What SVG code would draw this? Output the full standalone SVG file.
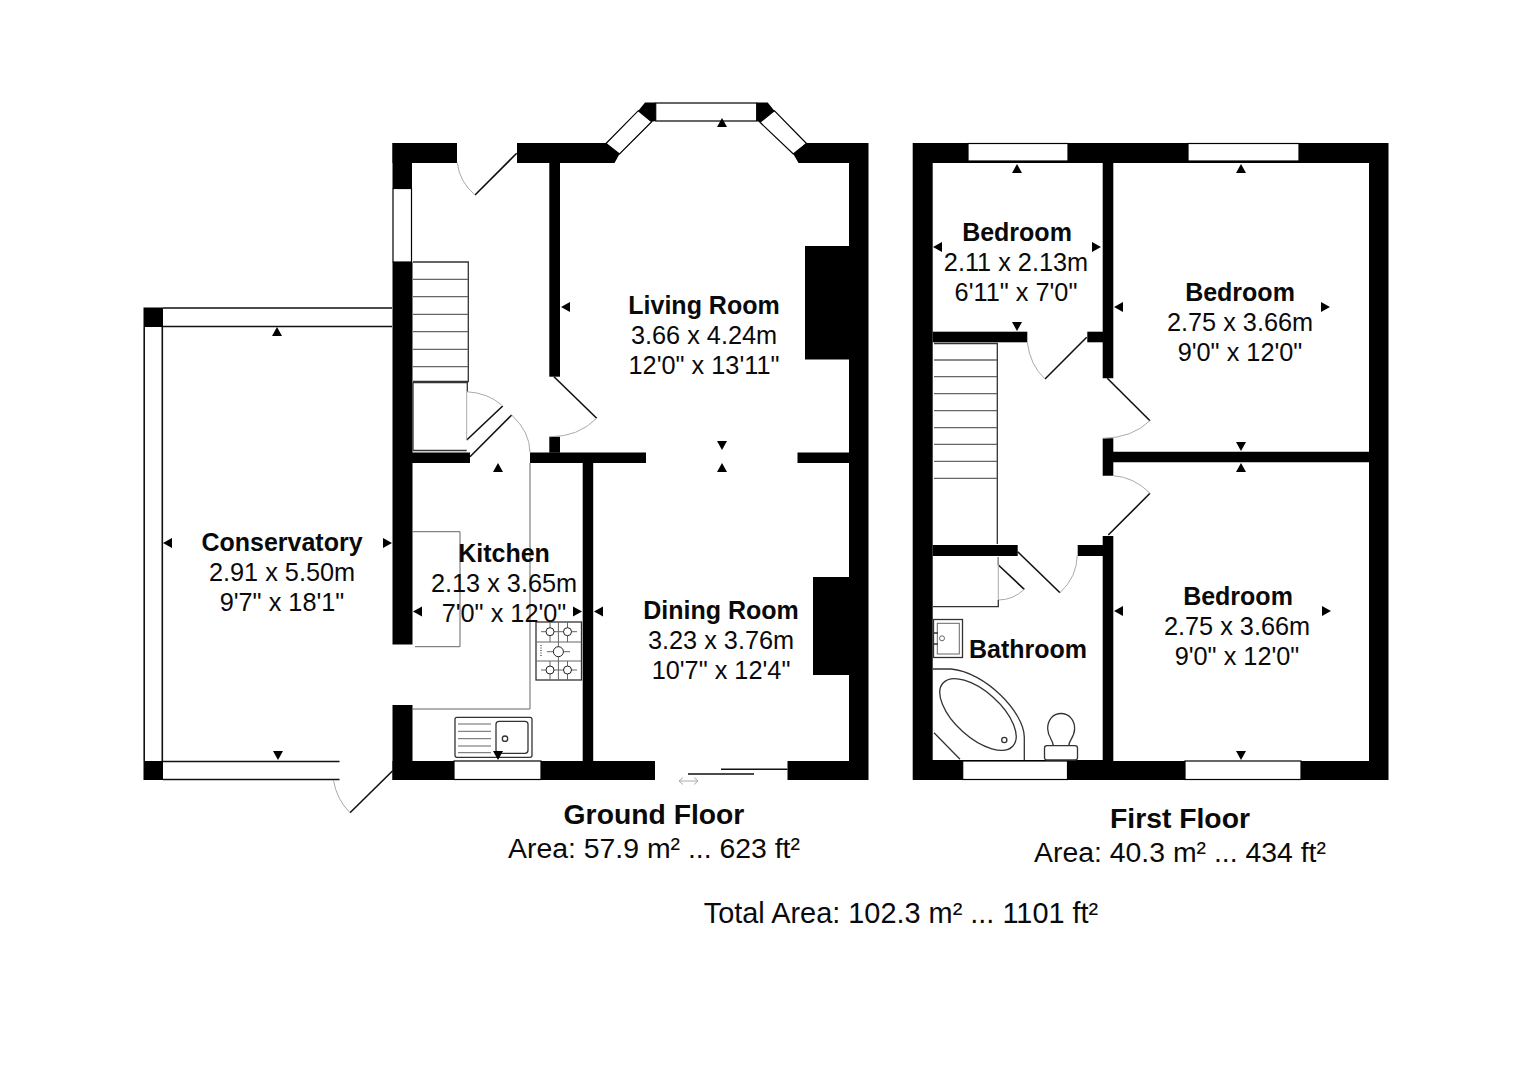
<svg xmlns="http://www.w3.org/2000/svg" width="1532" height="1080" viewBox="0 0 1532 1080">
<style>
.wall{fill:#000;stroke:none}
.win{fill:#fff;stroke:#000;stroke-width:1.2}
.leaf{fill:none;stroke:#111;stroke-width:1.6}
.arc{fill:none;stroke:#aaa;stroke-width:1}
.fit{fill:none;stroke:#333;stroke-width:1.3}
.thin{fill:none;stroke:#666;stroke-width:1}
.gl{fill:none;stroke:#666;stroke-width:1.3}
text{font-family:"Liberation Sans",Arial,sans-serif;fill:#0a0a0a;text-anchor:middle;font-size:25.3px}
.b{font-weight:bold;font-size:25px}
.t{font-size:28.3px;font-weight:bold}
.a{font-size:28.4px}
.g{font-size:28.9px}
</style>
<defs>
<path id="u" d="M-5 9L0 0L5 9Z" fill="#000"/>
<path id="d" d="M-5 0L0 9L5 0Z" fill="#000"/>
<path id="l" d="M9 -5L0 0L9 5Z" fill="#000"/>
<path id="r" d="M0 -5L9 0L0 5Z" fill="#000"/>
</defs>
<rect width="1532" height="1080" fill="#fff"/>

<g id="ground-floor-walls">
<rect class="wall" x="392.5" y="143" width="64.5" height="20"/>
<rect class="wall" x="392.5" y="143" width="19.5" height="45.5"/>
<rect class="win" x="393" y="188.5" width="18.5" height="73.5"/>
<rect class="wall" x="392.5" y="262" width="20" height="382.5"/>
<polygon class="wall" points="517,143 606,143 619.5,154 614.5,163 517,163"/>
<polygon class="win" points="606,143.5 638.3,110.7 651.7,121.7 619.5,154"/>
<polygon class="wall" points="638.3,110.7 645,102.5 655.7,102.5 655.7,121 651.7,121.7"/>
<rect class="win" x="655.7" y="103" width="101" height="18"/>
<polygon class="wall" points="756.7,102.5 767.7,102.5 774.3,110.7 760,122.3 756.7,121"/>
<polygon class="win" points="774.3,110.7 806.5,143.5 793.3,154 760,122.3"/>
<polygon class="wall" points="806.5,143 868.5,143 868.5,780 787.5,780 787.5,761 849,761 849,675 813,675 813,577 849,577 849,463 797.5,463 797.5,452.5 849,452.5 849,359.5 805,359.5 805,246 849,246 849,163 798.5,163 793.3,154"/>
<rect class="wall" x="549.3" y="163" width="10.7" height="213.7"/>
<rect class="wall" x="549.3" y="436.7" width="10.7" height="16"/>
<rect class="wall" x="530" y="452.5" width="116" height="10.5"/>
<rect class="wall" x="412" y="452.5" width="58" height="10.5"/>
<rect class="wall" x="582.7" y="463" width="10.5" height="298"/>
<rect class="wall" x="392.5" y="705" width="20" height="75"/>
<rect class="wall" x="392.5" y="761" width="61.5" height="19"/>
<rect class="win" x="454" y="761" width="87" height="18.5"/>
<rect class="wall" x="541" y="761" width="114" height="19"/>
</g>

<g id="conservatory-frame">
<rect class="wall" x="143.5" y="307.5" width="19.5" height="19.5"/>
<rect class="wall" x="143.5" y="761" width="19.5" height="19"/>
<path class="leaf" d="M163 308H392M163 326.5H392M144.2 327V761M162.3 327V761M163 761.5H339.5M163 779.5H339.5"/>
</g>

<g id="ground-floor-doors">
<path class="leaf" d="M516.7 153.3L475 195"/>
<path class="arc" d="M457.3 162.7Q459.5 182 475 195"/>
<path class="leaf" d="M554 376.7L596.7 418.3"/>
<path class="arc" d="M550 436.7Q578 437 596.7 418.3"/>
<path class="leaf" d="M511.7 415L470 456.7M502.7 406L466.7 440"/>
<path class="arc" d="M511.7 415Q530 432 530 452.5M466.7 391.7Q488 393 501.7 405"/>
<path class="leaf" d="M392.7 770.7L350 812.7"/>
<path class="arc" d="M333.3 780Q337 800 350 812.7"/>
<path class="leaf" d="M721 769.3H787.5M688 774H754"/>
<path class="arc" d="M679 781H698M683 777.5L679 781L683 784.5M694 777.5L698 781L694 784.5"/>
</g>

<g id="hall-fittings">
<path class="fit" d="M413 262H468.3V381.5H413"/>
<path class="gl" d="M413 279.3H468M413 296.7H468M413 314.3H468M413 331.7H468M413 349.3H468M413 366.7H468"/>
<path class="fit" d="M413 382.7H467.3V391.5M413 450.5H466.7M413 382.7V450.7"/>
<path class="arc" d="M466.7 391.7V440"/>
</g>

<g id="kitchen-fittings">
<path class="thin" d="M412 531.7H460V646.7H415"/>
<path class="thin" d="M530 463V709H412"/>
<g id="hob">
<rect class="fit" x="536" y="622" width="45.5" height="58"/>
<path class="thin" d="M536 642H581M536 661H581M550 622V642M567.5 622V642M550 661V680M567.5 661V680M558.4 622V680M541 631.7H577M541 670H577M547 651.7H570"/>
<g fill="#fff" stroke="#222" stroke-width="1"><circle cx="550" cy="631.7" r="4"/><circle cx="567.5" cy="631.7" r="4"/><circle cx="558.4" cy="651.7" r="5"/><circle cx="550" cy="670" r="4"/><circle cx="567.5" cy="670" r="4"/></g>
<path d="M541 645V657" stroke="#333" stroke-width="1.2" stroke-dasharray="1 1.5" fill="none"/>
</g>
<g id="sink">
<rect class="fit" x="455" y="717.3" width="77" height="40" rx="2"/>
<rect class="fit" x="496" y="721.3" width="32" height="32" rx="3"/>
<path class="thin" d="M458 724H491M458 731.3H491M458 738.7H491M458 746H491M458 752.7H491"/>
<circle class="fit" cx="505" cy="738.7" r="2.7"/>
</g>
</g>

<g id="first-floor-walls">
<path class="wall" d="M912.7 143H1388.5V780H912.7ZM932.7 163V760H1102.7V536H1113.3V761H1369V462.3H1113.3V475.7H1102.7V438.3H1113.3V451.7H1369V163H1113.3V378.3H1102.7V163Z" fill-rule="evenodd"/>
<rect class="win" x="968" y="143.5" width="100" height="17.5"/>
<rect class="win" x="1188" y="143.5" width="111" height="17.5"/>
<rect class="win" x="962.7" y="761" width="104.8" height="18.5"/>
<rect class="win" x="1185" y="761" width="116" height="18.5"/>
<rect class="wall" x="932.7" y="331.7" width="94.6" height="10.6"/>
<rect class="wall" x="1087.3" y="331.7" width="15.7" height="10.6"/>
<rect class="wall" x="932.7" y="545" width="85" height="11"/>
<rect class="wall" x="1077.7" y="545" width="25.3" height="11"/>
</g>

<g id="first-floor-doors">
<path class="leaf" d="M1086.7 337.3L1045 379"/><path class="arc" d="M1027.3 342.3Q1030 365 1045 379"/>
<path class="leaf" d="M1107.3 378.3L1150 420.7"/><path class="arc" d="M1102.7 438.3Q1132 438 1150 420.7"/>
<path class="leaf" d="M1150 493.3L1108.3 535"/><path class="arc" d="M1113.3 475.7Q1134 477 1150 493.3"/>
<path class="leaf" d="M1017.7 551.7L1060 592.7"/><path class="arc" d="M1077.3 555Q1077 577 1060 592.7"/>
<path class="leaf" d="M998.3 565L1024.3 589.3"/><path class="arc" d="M998.3 600Q1013 600 1024.3 589.3"/>
</g>

<g id="first-floor-fittings">
<g id="stairs">
<path class="fit" d="M934 343.5H997.3V544"/>
<path class="gl" d="M934 360H997M934 376.7H997M934 393.7H997M934 410.7H997M934 427.7H997M934 444.3H997M934 461.3H997M934 478.3H997"/>
</g>
<path class="fit" d="M933 606.7H998.3V600M998.3 565V557"/>
<path class="arc" d="M998.3 557V600"/>
<g id="basin">
<rect class="fit" x="933.5" y="619.5" width="29" height="38"/>
<rect class="thin" x="937.3" y="623.3" width="22" height="30.7"/>
<path class="fit" d="M934 633H938M934 644H938"/>
<circle class="thin" cx="942" cy="638.3" r="2.5"/>
</g>
<g id="bath">
<path class="fit" d="M933 669H951C985 672 1024 712 1024.3 737V760M934 732.7L960 759.3"/>
<ellipse class="fit" cx="978" cy="714.5" rx="47" ry="23" transform="rotate(42 978 714.5)"/>
<circle class="fit" cx="1004.3" cy="740" r="2.6"/>
</g>
<g id="toilet">
<rect class="fit" x="1044.5" y="745.7" width="33" height="14.3" rx="2.5"/>
<path class="fit" d="M1053 745.7C1054 741 1048 738 1047.7 729C1047.5 720 1053 713.5 1061 713.5C1069 713.5 1074.8 720 1074.6 729C1074.4 738 1068 741 1069 745.7"/>
</g>
</g>

<g id="measure-arrows">
<use href="#u" x="722" y="118"/><use href="#l" x="561" y="307"/><use href="#d" x="722" y="441"/><use href="#u" x="722" y="463"/>
<use href="#u" x="277" y="327"/><use href="#d" x="278" y="751"/><use href="#l" x="163" y="543"/><use href="#r" x="383" y="543"/>
<use href="#u" x="498" y="463"/><use href="#d" x="498" y="751"/><use href="#l" x="413" y="611.5"/><use href="#r" x="573" y="611.5"/><use href="#l" x="594" y="611.5"/>
<use href="#u" x="1017" y="164"/><use href="#d" x="1017" y="322"/><use href="#l" x="933" y="247"/><use href="#r" x="1092" y="247"/>
<use href="#u" x="1241" y="164"/><use href="#d" x="1241" y="442"/><use href="#l" x="1114" y="307"/><use href="#r" x="1321" y="307"/>
<use href="#u" x="1241" y="463"/><use href="#d" x="1241" y="751"/><use href="#l" x="1114" y="611"/><use href="#r" x="1322" y="611"/>
</g>

<g id="living-room"><text class="b" x="704" y="313.5">Living Room</text><text x="704" y="343.5">3.66 x 4.24m</text><text x="704" y="373.5">12'0" x 13'11"</text></g>
<g id="conservatory"><text class="b" x="282" y="550.5">Conservatory</text><text x="282" y="580.5">2.91 x 5.50m</text><text x="282" y="610.5">9'7" x 18'1"</text></g>
<g id="kitchen"><text class="b" x="504" y="561.5">Kitchen</text><text x="504" y="591.5">2.13 x 3.65m</text><text x="504" y="621.5">7'0" x 12'0"</text></g>
<g id="dining-room"><text class="b" x="721" y="618.5">Dining Room</text><text x="721" y="648.5">3.23 x 3.76m</text><text x="721" y="678.5">10'7" x 12'4"</text></g>
<g id="bedroom-1"><text class="b" x="1017" y="240.5">Bedroom</text><text x="1016" y="270.5">2.11 x 2.13m</text><text x="1016" y="300.5">6'11" x 7'0"</text></g>
<g id="bedroom-2"><text class="b" x="1240" y="300.5">Bedroom</text><text x="1240" y="330.5">2.75 x 3.66m</text><text x="1240" y="360.5">9'0" x 12'0"</text></g>
<g id="bedroom-3"><text class="b" x="1238" y="604.5">Bedroom</text><text x="1237" y="634.5">2.75 x 3.66m</text><text x="1237" y="664.5">9'0" x 12'0"</text></g>
<g id="bathroom"><text class="b" x="1028" y="657.5">Bathroom</text></g>

<g id="titles">
<text class="t" x="654" y="824">Ground Floor</text><text class="a" x="654" y="857.5">Area: 57.9 m² ... 623 ft²</text>
<text class="t" x="1180" y="828">First Floor</text><text class="a" x="1180" y="861.5">Area: 40.3 m² ... 434 ft²</text>
<text class="a g" x="901" y="922.5">Total Area: 102.3 m² ... 1101 ft²</text>
</g>
</svg>
